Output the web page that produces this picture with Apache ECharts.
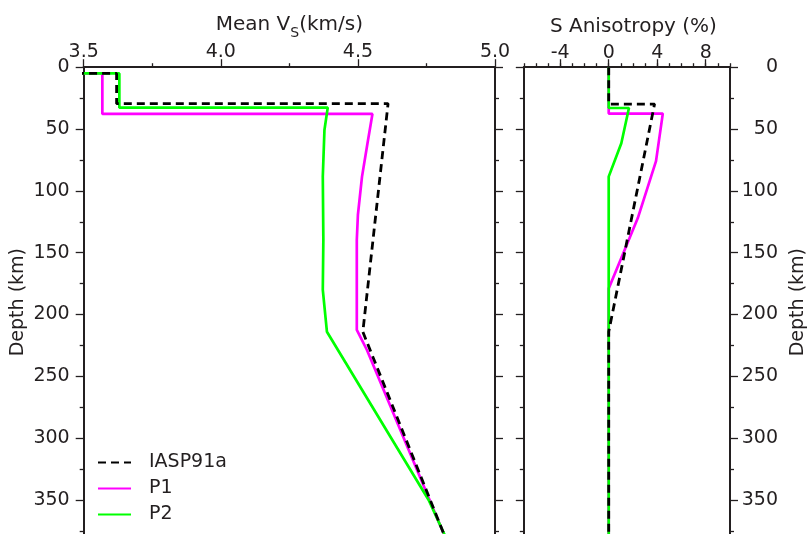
<!DOCTYPE html>
<html><head><meta charset="utf-8">
<script src="https://cdn.jsdelivr.net/npm/echarts@6/dist/echarts.min.js"></script>
<style>html,body{margin:0;padding:0;background:#fff}#c{width:809px;height:534px}</style>
</head><body><div id="c"></div>
<script>
// ---- data ----
const seriesNames = ['IASP91a', 'P1', 'P2'];
const vsTicks = [3.5, 4.0, 4.5, 5.0];
const aniTickLabels = [-4, 0, 4, 8];
const depthTickStep = 50;

const iaspVsDepth = [0, 5, 5, 29.5, 29.5, 214, 380];
const iaspVs      = [3.40, 3.40, 3.62, 3.62, 4.61, 4.518, 4.818];
const p1VsDepth   = [0, 5, 5, 37.8, 37.8, 61.5, 88.5, 119.5, 139.7, 212.5, 228.7, 380];
const p1Vs        = [3.40, 3.40, 3.568, 3.568, 4.553, 4.535, 4.515, 4.500, 4.496, 4.496, 4.533, 4.818];
const p2VsDepth   = [0, 5, 5, 32.7, 32.7, 50.8, 88.5, 139.7, 180, 213.9, 350, 380];
const p2Vs        = [3.40, 3.40, 3.63, 3.63, 4.39, 4.378, 4.372, 4.374, 4.372, 4.387, 4.758, 4.82];

const iaspAniDepth = [0, 29.8, 29.8, 214, 380];
const iaspAni      = [0, 0, 3.78, 0, 0];
const p1AniDepth   = [0, 37.5, 37.5, 76, 122, 179, 380];
const p1Ani        = [0, 0, 4.46, 3.9, 2.4, 0, 0];
const p2AniDepth   = [0, 33, 33, 61.5, 88.5, 380];
const p2Ani        = [0, 0, 1.67, 1.04, 0, 0];

// ---- chart ----
const zip = (xs, ys) => xs.map((x, i) => [x, ys[i]]);
const FONT = 'DejaVu Sans';
const INK = '#231f20';
const axisLine = { show: true, onZero: false, lineStyle: { color: INK, width: 2 } };
const tickMaj = { show: true, length: 8, lineStyle: { color: INK, width: 1.3 } };
const minorT = { show: true, splitNumber: 2, length: 4, lineStyle: { color: INK, width: 1.3 } };
const lbl = { color: INK, fontFamily: FONT, fontSize: 19 };

const depthAxis = (grid, pos, showLabel, extra) => Object.assign({
  type: 'value', gridIndex: grid, position: pos, inverse: true,
  min: 0, max: 380, interval: depthTickStep,
  axisLine, axisTick: tickMaj, minorTick: minorT, splitLine: { show: false },
  axisLabel: Object.assign({ show: showLabel, margin: 14, showMaxLabel: false }, lbl)
}, extra || {});

const option = {
  backgroundColor: '#fff',
  animation: false,
  grid: [
    { left: 83.7, top: 67.2, width: 411.3, height: 469.9, outerBoundsMode: 'none', containLabel: false },
    { left: 523.8, top: 67.2, width: 206.2, height: 469.9, outerBoundsMode: 'none', containLabel: false }
  ],
  xAxis: [
    { type: 'value', gridIndex: 0, position: 'top', min: vsTicks[0], max: vsTicks[vsTicks.length - 1], interval: 0.5,
      axisLine, axisTick: tickMaj, minorTick: minorT, splitLine: { show: false },
      axisLabel: Object.assign({ margin: 6, formatter: v => v.toFixed(1) }, lbl),
      name: '{a|Mean V}{s|S}{a|(km/s)}', nameLocation: 'middle', nameGap: 27, nameMoveOverlap: false,
      nameTextStyle: { rich: {
        a: { fontFamily: FONT, fontSize: 20, color: INK, verticalAlign: 'bottom', lineHeight: 20, padding: [0, 0, 5, 0] },
        s: { fontFamily: FONT, fontSize: 14, color: INK, verticalAlign: 'bottom', lineHeight: 14 }
      } } },
    { type: 'value', gridIndex: 1, position: 'top', min: -7, max: 10,
      axisLine, axisTick: Object.assign({ customValues: aniTickLabels }, tickMaj),
      splitLine: { show: false },
      axisLabel: Object.assign({ margin: 5, customValues: aniTickLabels }, lbl),
      name: 'S Anisotropy (%)', nameLocation: 'middle', nameGap: 30, nameMoveOverlap: false,
      nameTextStyle: { fontFamily: FONT, fontSize: 20, color: INK, padding: [0, 0, 0, 13] } },
    { type: 'value', gridIndex: 1, position: 'top', min: -7, max: 10, interval: 1,
      axisLine: { show: false }, axisTick: { show: true, length: 4, lineStyle: { color: INK, width: 1.3 } },
      axisLabel: { show: false }, splitLine: { show: false } }
  ],
  yAxis: [
    depthAxis(0, 'left', true, { name: 'Depth (km)', nameLocation: 'middle', nameGap: 56, nameMoveOverlap: false,
      nameTextStyle: { fontFamily: FONT, fontSize: 19, color: INK } }),
    depthAxis(0, 'right', false),
    depthAxis(1, 'left', false),
    depthAxis(1, 'right', true, { name: 'Depth (km)', nameLocation: 'middle', nameGap: 59, nameMoveOverlap: false,
      nameTextStyle: { fontFamily: FONT, fontSize: 19, color: INK },
      axisLabel: Object.assign({ margin: 48, align: 'right', showMaxLabel: false }, lbl) })
  ],
  legend: {
    data: seriesNames, orient: 'vertical', left: 97, top: 453, padding: 0,
    itemWidth: 33, itemHeight: 14, itemGap: 7,
    itemStyle: { opacity: 0, borderWidth: 0 },
    textStyle: { fontFamily: FONT, fontSize: 19, color: INK, padding: [0, 0, 0, 13] }
  },
  series: [
    { name: 'P1', type: 'line', xAxisIndex: 0, yAxisIndex: 0, symbol: 'none', data: zip(p1Vs, p1VsDepth),
      lineStyle: { color: '#ff00ff', width: 2.7 }, itemStyle: { color: '#ff00ff' } },
    { name: 'P2', type: 'line', xAxisIndex: 0, yAxisIndex: 0, symbol: 'none', data: zip(p2Vs, p2VsDepth),
      lineStyle: { color: '#00ff00', width: 2.7 }, itemStyle: { color: '#00ff00' } },
    { name: 'IASP91a', type: 'line', xAxisIndex: 0, yAxisIndex: 0, symbol: 'none', data: zip(iaspVs, iaspVsDepth),
      lineStyle: { color: '#000', width: 2.8, type: [8, 5] }, itemStyle: { color: '#000' } },
    { name: 'P1', type: 'line', xAxisIndex: 1, yAxisIndex: 2, symbol: 'none', data: zip(p1Ani, p1AniDepth),
      lineStyle: { color: '#ff00ff', width: 2.7 }, itemStyle: { color: '#ff00ff' } },
    { name: 'P2', type: 'line', xAxisIndex: 1, yAxisIndex: 2, symbol: 'none', data: zip(p2Ani, p2AniDepth),
      lineStyle: { color: '#00ff00', width: 2.7 }, itemStyle: { color: '#00ff00' } },
    { name: 'IASP91a', type: 'line', xAxisIndex: 1, yAxisIndex: 2, symbol: 'none', data: zip(iaspAni, iaspAniDepth),
      lineStyle: { color: '#000', width: 2.8, type: [8, 5] }, itemStyle: { color: '#000' } }
  ]
};
echarts.init(document.getElementById('c'), null, { renderer: 'canvas' }).setOption(option);
</script></body></html>
